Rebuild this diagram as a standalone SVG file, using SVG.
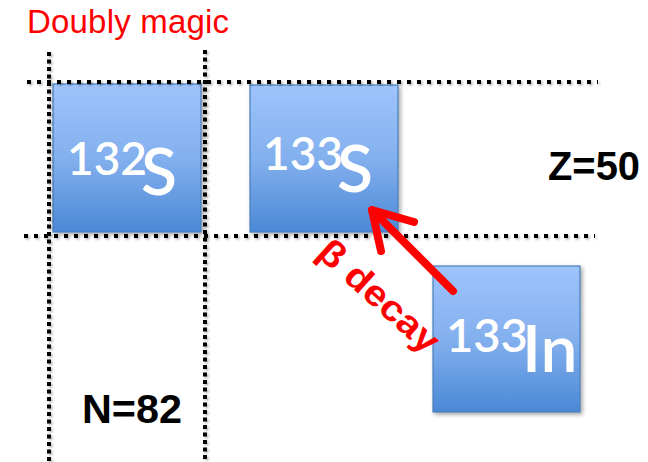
<svg xmlns="http://www.w3.org/2000/svg" width="648" height="462" viewBox="0 0 648 462">
<defs>
<linearGradient id="g" x1="0" y1="0" x2="0" y2="1">
<stop offset="0" stop-color="#9EC4FB"/>
<stop offset="0.5" stop-color="#83B0EE"/>
<stop offset="1" stop-color="#4B88D6"/>
</linearGradient>
<filter id="sh" x="-20%" y="-20%" width="140%" height="140%">
<feDropShadow dx="2" dy="2" stdDeviation="2" flood-color="#000" flood-opacity="0.35"/>
</filter>
<filter id="lsh" x="-5%" y="-50%" width="110%" height="200%">
<feDropShadow dx="1.5" dy="1.5" stdDeviation="1.2" flood-color="#000" flood-opacity="0.3"/>
</filter>
</defs>
<style>
.box{fill:url(#g);stroke:#4A7EBB;stroke-width:1.2;filter:url(#sh)}
.iso{font-family:Lato,"Liberation Sans",Arial,sans-serif;fill:#fff;font-weight:600}
.hd{stroke:#000;stroke-width:4;stroke-dasharray:4 6;fill:none}
.vd{stroke:#000;stroke-width:4;stroke-dasharray:4 3.5;fill:none}
.lbl{font-family:"Liberation Sans",Arial,sans-serif;font-weight:bold;fill:#000}
</style>
<text x="27" y="33" font-family="Liberation Sans, Arial, sans-serif" font-size="33" fill="#FF0000" textLength="202">Doubly magic</text>
<g id="n132S">
<rect class="box" x="53" y="84" width="148" height="148"/>
<text class="iso"><tspan x="67" y="175" font-size="46">132</tspan><tspan x="141" y="195" font-size="66">S</tspan></text>
</g>
<g id="n133S">
<rect class="box" x="250" y="85" width="148" height="147"/>
<text class="iso"><tspan x="263" y="170" font-size="46">133</tspan><tspan x="337" y="192" font-size="66">S</tspan></text>
</g>
<g id="n133In">
<rect class="box" x="433" y="266" width="147" height="146"/>
<text class="iso"><tspan x="446" y="352" font-size="47">133</tspan><tspan x="522" y="372" font-size="66">In</tspan></text>
</g>
<g id="grid" filter="url(#lsh)">
<line class="hd" x1="27" y1="82" x2="598" y2="82"/>
<line class="hd" x1="24" y1="236" x2="595" y2="236"/>
<line class="vd" x1="49" y1="52" x2="49" y2="462"/>
<line class="vd" x1="205" y1="50" x2="205" y2="462"/>
</g>
<text class="lbl" x="548" y="180" font-size="40" textLength="92" lengthAdjust="spacingAndGlyphs">Z=50</text>
<text class="lbl" x="82" y="423" font-size="40" textLength="100" lengthAdjust="spacingAndGlyphs">N=82</text>
<g id="connectors">
<path d="M453,291 L374,212 M372,210 L414,222 M372,210 L381,251" stroke="#FF0000" stroke-width="8" stroke-linecap="round" stroke-linejoin="round" fill="none"/>
</g>
<text transform="translate(371,305) rotate(42)" text-anchor="middle" font-family="Liberation Sans, Arial, sans-serif" font-weight="bold" font-size="36" fill="#FF0000" textLength="150" lengthAdjust="spacingAndGlyphs">β decay</text>
</svg>
